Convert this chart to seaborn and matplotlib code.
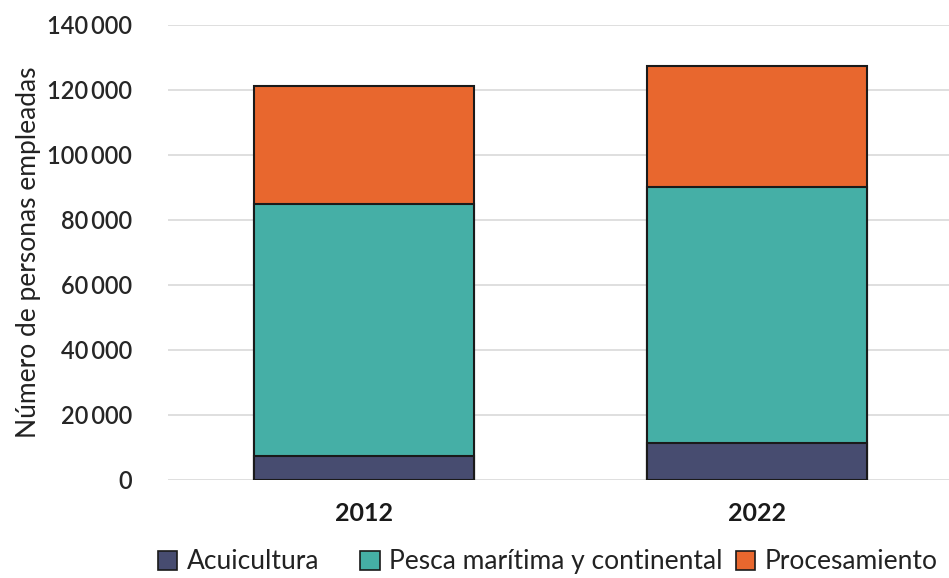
import pandas as pd
import numpy as np
import matplotlib.pyplot as plt
import matplotlib.patches as mpatches
import seaborn as sns

# Data
years = ['2012', '2022']
acuicultura = [7400, 11400]
pesca = [77500, 78800]
procesamiento = [36300, 37200]

labels = ['Acuicultura', 'Pesca marítima y continental', 'Procesamiento']
colors = ['#474C70', '#45AFA6', '#E8672E']

sns.set_theme(style='white')
plt.rcParams['font.family'] = ['Lato', 'DejaVu Sans']

df = pd.DataFrame({'year': years, 'acui': acuicultura, 'pesca': pesca, 'proc': procesamiento})
df['lvl1'] = df['acui']
df['lvl2'] = df['acui'] + df['pesca']
df['lvl3'] = df['lvl2'] + df['proc']

fig = plt.figure(figsize=(9.49, 5.78), dpi=100)
ax = fig.add_axes([0.177, 0.170, 0.823, 0.787])

# stacked bars: draw cumulative totals from tallest to shortest
for col, c in zip(['lvl3', 'lvl2', 'lvl1'], colors[::-1]):
    sns.barplot(data=df, x='year', y=col, color=c, width=0.56, edgecolor='#1a1a1a',
                linewidth=1.5, saturation=1, ax=ax, zorder=3)

ax.set_ylim(0, 140000)
ax.set_xlim(-0.5, 1.49)
ax.set_yticks(np.arange(0, 140001, 20000))
ax.set_yticklabels(['0' if v == 0 else f'{v // 1000}\u2009000' for v in range(0, 140001, 20000)],
                   fontsize=17, color='#262626', fontweight='semibold')
ax.set_xticks([0, 1])
ax.set_xticklabels(years, fontsize=18, fontweight='bold', color='#1a1a1a')
ax.tick_params(axis='x', pad=16, length=0)
ax.tick_params(axis='y', pad=26, length=0)
ax.grid(axis='y', color='#d9d9d9', linewidth=1.2, zorder=0)
ax.set_axisbelow(True)
for s in ax.spines.values():
    s.set_visible(False)
ax.set_xlabel('')
ax.set_ylabel('Número de personas empleadas', fontsize=19, color='#222222', labelpad=4)

# legend entries placed individually, as in the reference
xpos = [0.155, 0.368, 0.764]
for c, l, x in zip(colors, labels, xpos):
    h = mpatches.Patch(facecolor=c, edgecolor='#1a1a1a', linewidth=1.2, label=l)
    fig.legend(handles=[h], loc='lower left', bbox_to_anchor=(x, -0.012), frameon=False,
               fontsize=19, handlelength=0.75, handleheight=0.75, handletextpad=0.35,
               borderaxespad=0, labelcolor='#222222')

fig.savefig('out.png', dpi=100)
